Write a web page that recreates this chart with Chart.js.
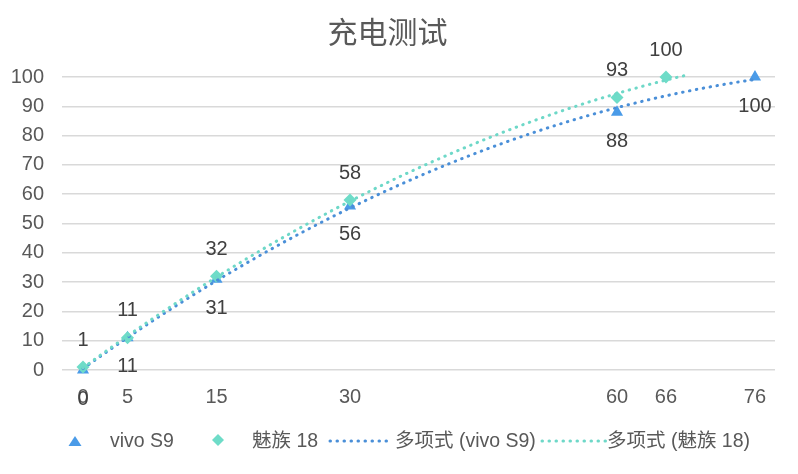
<!DOCTYPE html>
<html>
<head>
<meta charset="utf-8">
<script src="https://cdn.jsdelivr.net/npm/chart.js@4"></script>
<style>
  html, body { margin: 0; padding: 0; background: #fff; }
  #wrap { position: relative; width: 798px; height: 474px; }
  #legend {
    position: absolute; left: 0; top: 428px; width: 798px; height: 26px;
    font: 19.5px "Liberation Sans", "Noto Sans CJK SC", sans-serif; color: #595959;
  }
  #legend span { position: absolute; top: 0; line-height: 24px; white-space: nowrap; }
</style>
</head>
<body>
<div id="wrap">
  <canvas id="chart" width="798" height="474"></canvas>
  <div id="legend">
    <svg style="position:absolute;left:67px;top:6px" width="16" height="14"><polygon points="8,2 14.5,12 1.5,12" fill="#4a9be8"/></svg>
    <span style="left:110px">vivo S9</span>
    <svg style="position:absolute;left:211px;top:5px" width="14" height="14"><polygon points="7,1 13,7 7,13 1,7" fill="#6edcc8"/></svg>
    <span style="left:252px">魅族 18</span>
    <svg style="position:absolute;left:327px;top:3px" width="64" height="18"><line x1="3" y1="10" x2="61" y2="10" stroke="#4a8fd8" stroke-width="3" stroke-linecap="round" stroke-dasharray="0.5 6.5"/></svg>
    <span style="left:395px">多项式 (vivo S9)</span>
    <svg style="position:absolute;left:539px;top:3px" width="70" height="18"><line x1="3" y1="10" x2="67" y2="10" stroke="#6ed8c8" stroke-width="3" stroke-linecap="round" stroke-dasharray="0.5 6.5"/></svg>
    <span style="left:607px">多项式 (魅族 18)</span>
  </div>
</div>
<script>
// charging time (minutes) and battery level (%)
// last times sit at half minutes; the axis shows them rounded (66, 76)
const vivoTimes = [0, 5, 15, 30, 60, 75.5];
const vivoLevels = [0, 11, 31, 56, 88, 100];
const meizuTimes = [0, 5, 15, 30, 60, 65.5];
const meizuLevels = [1, 11, 32, 58, 93, 100];
const xTickValues = [0, 5, 15, 30, 60, 65.5, 75.5];

// order-2 least squares fit, like the spreadsheet trendline
function quadFit(xs, ys) {
  let s = [0, 0, 0, 0, 0], t = [0, 0, 0];
  xs.forEach((x, i) => {
    for (let k = 0; k < 5; k++) s[k] += Math.pow(x, k);
    for (let k = 0; k < 3; k++) t[k] += Math.pow(x, k) * ys[i];
  });
  const m = [
    [s[0], s[1], s[2], t[0]],
    [s[1], s[2], s[3], t[1]],
    [s[2], s[3], s[4], t[2]],
  ];
  for (let c = 0; c < 3; c++) {
    for (let r = c + 1; r < 3; r++) {
      const f = m[r][c] / m[c][c];
      for (let k = c; k < 4; k++) m[r][k] -= f * m[c][k];
    }
  }
  const b = [0, 0, 0];
  for (let r = 2; r >= 0; r--) {
    let v = m[r][3];
    for (let k = r + 1; k < 3; k++) v -= m[r][k] * b[k];
    b[r] = v / m[r][r];
  }
  return b;
}

function trendPoints(xs, ys, xEnd) {
  const b = quadFit(xs, ys);
  const pts = [];
  for (let x = xs[0]; x <= xEnd; x += 0.5) {
    pts.push({ x: x, y: b[0] + b[1] * x + b[2] * x * x });
  }
  return pts;
}

const toPoints = (xs, ys) => xs.map((x, i) => ({ x: x, y: ys[i] }));

const fontFamily = '"Liberation Sans", "Noto Sans CJK SC", sans-serif';

const dataLabels = {
  id: "dataLabels",
  afterDatasetsDraw(chart) {
    const ctx = chart.ctx;
    ctx.save();
    ctx.font = "20px " + fontFamily;
    ctx.fillStyle = "#404040";
    ctx.textAlign = "center";
    ctx.textBaseline = "middle";
    [[0, 29], [1, -27]].forEach(([idx, dy]) => {
      const ds = chart.data.datasets[idx];
      chart.getDatasetMeta(idx).data.forEach((el, i) => {
        ctx.fillText(String(ds.data[i].y), el.x, el.y + dy);
      });
    });
    ctx.restore();
  },
};

const tickFont = { family: fontFamily, size: 20 };

new Chart(document.getElementById("chart").getContext("2d"), {
  type: "scatter",
  data: {
    datasets: [
      {
        label: "vivo S9",
        data: toPoints(vivoTimes, vivoLevels),
        pointStyle: "triangle",
        pointRadius: 7,
        backgroundColor: "#4a9be8",
        borderColor: "#4a9be8",
        borderWidth: 0,
        clip: false,
        order: 3,
      },
      {
        label: "魅族 18",
        data: toPoints(meizuTimes, meizuLevels),
        pointStyle: "rectRot",
        pointRadius: 6.5,
        backgroundColor: "#6edcc8",
        borderColor: "#6edcc8",
        borderWidth: 0,
        clip: false,
        order: 2,
      },
      {
        label: "多项式 (vivo S9)",
        type: "line",
        data: trendPoints(vivoTimes, vivoLevels, 75.5),
        borderColor: "#4a8fd8",
        borderWidth: 3,
        borderDash: [0.5, 6.5],
        borderCapStyle: "round",
        pointRadius: 0,
        fill: false,
        clip: false,
        order: 1,
      },
      {
        label: "多项式 (魅族 18)",
        type: "line",
        data: trendPoints(meizuTimes, meizuLevels, 67.5),
        borderColor: "#6ed8c8",
        borderWidth: 3,
        borderDash: [0.5, 6.5],
        borderCapStyle: "round",
        pointRadius: 0,
        fill: false,
        clip: false,
        order: 0,
      },
    ],
  },
  options: {
    responsive: false,
    animation: false,
    layout: { padding: { right: 23, bottom: 59 } },
    plugins: {
      legend: { display: false },
      tooltip: { enabled: false },
      title: {
        display: true,
        text: "充电测试",
        color: "#595959",
        font: { family: '"Noto Sans CJK SC", sans-serif', size: 30, weight: "normal" },
        padding: { top: 14, bottom: 27 },
      },
    },
    scales: {
      x: {
        type: "linear",
        min: -2.36,
        max: 77.75,
        grid: { display: false, drawTicks: false },
        border: { display: false },
        afterBuildTicks: (scale) => {
          scale.ticks = xTickValues.map((v) => ({ value: v }));
        },
        afterFit: (scale) => { scale.height = 45; },
        ticks: {
          autoSkip: false,
          maxRotation: 0,
          padding: 15,
          color: "#595959",
          font: tickFont,
          callback: (v) => String(Math.round(v)),
        },
      },
      y: {
        min: 0,
        max: 100,
        grid: { color: "#d9d9d9", lineWidth: 1.5, drawTicks: false },
        border: { display: false },
        afterFit: (scale) => { scale.width = 62; },
        ticks: {
          stepSize: 10,
          padding: 18,
          color: "#595959",
          font: tickFont,
        },
      },
    },
  },
  plugins: [dataLabels],
});
</script>
</body>
</html>
